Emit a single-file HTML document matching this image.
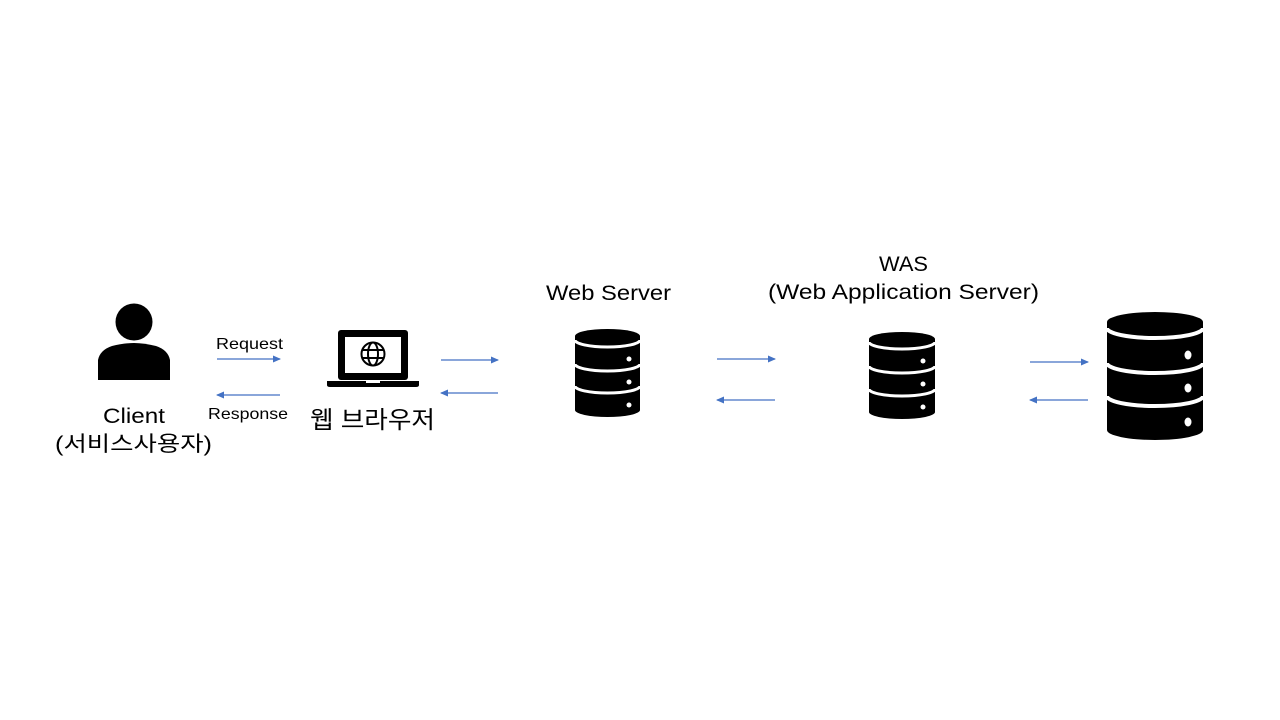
<!DOCTYPE html>
<html><head><meta charset="utf-8"><style>
html,body{margin:0;padding:0;background:#fff;}
svg{display:block;}
text{font-family:"Liberation Sans","Noto Sans CJK KR",sans-serif;fill:#000;}
</style></head><body>
<svg width="1280" height="720" viewBox="0 0 1280 720" xmlns="http://www.w3.org/2000/svg">
<defs>
<marker id="ah" markerWidth="8" markerHeight="8" refX="7" refY="4" orient="auto" markerUnits="userSpaceOnUse">
<path d="M0,0.5 L8,4 L0,7.5 Z" fill="#4472c4"/></marker>
</defs>
<!-- person -->
<circle cx="134" cy="322" r="18.5" fill="#000"/>
<path d="M98,380 L98,360 Q100,350 112,346 Q124,343 134,343 Q144,343 156,346 Q168,350 170,360 L170,380 Z" fill="#000"/>
<!-- laptop -->
<rect x="338" y="330" width="70" height="50" rx="3" fill="#000"/>
<rect x="345" y="337" width="56" height="36" fill="#fff"/>
<g fill="none" stroke="#000" stroke-width="2">
<circle cx="373" cy="354" r="11.5"/>
<ellipse cx="373" cy="354" rx="5" ry="11.5"/>
<line x1="361.5" y1="350" x2="384.5" y2="350"/>
<line x1="361.5" y1="358" x2="384.5" y2="358"/>
</g>
<path d="M327,381 L419,381 L419,385 Q419,387 416,387 L330,387 Q327,387 327,385 Z" fill="#000"/>
<rect x="366" y="381" width="14" height="2" fill="#fff"/>
<!-- DB icons -->
<g id="db1">
<path d="M575,336 A32.5,7 0 0 1 640,336 L640,410 A32.5,7 0 0 1 575,410 Z" fill="#000"/>
<g fill="none" stroke="#fff" stroke-width="3">
<path d="M575,340 A32.5,7 0 0 0 640,340"/>
<path d="M575,364 A32.5,7 0 0 0 640,364"/>
<path d="M575,386 A32.5,7 0 0 0 640,386"/>
</g>
<g fill="#fff"><circle cx="629" cy="359" r="2.5"/><circle cx="629" cy="382" r="2.5"/><circle cx="629" cy="405" r="2.5"/></g>
</g>
<g>
<path d="M869,339 A33,7 0 0 1 935,339 L935,412 A33,7 0 0 1 869,412 Z" fill="#000"/>
<g fill="none" stroke="#fff" stroke-width="3">
<path d="M869,342 A33,7 0 0 0 935,342"/>
<path d="M869,366 A33,7 0 0 0 935,366"/>
<path d="M869,389 A33,7 0 0 0 935,389"/>
</g>
<g fill="#fff"><circle cx="923" cy="361" r="2.5"/><circle cx="923" cy="384" r="2.5"/><circle cx="923" cy="407" r="2.5"/></g>
</g>
<g>
<path d="M1107,322 A48,10 0 0 1 1203,322 L1203,430 A48,10 0 0 1 1107,430 Z" fill="#000"/>
<g fill="none" stroke="#fff" stroke-width="4">
<path d="M1107,328 A48,10 0 0 0 1203,328"/>
<path d="M1107,363 A48,10 0 0 0 1203,363"/>
<path d="M1107,396 A48,10 0 0 0 1203,396"/>
</g>
<g fill="#fff"><ellipse cx="1188" cy="355" rx="3.5" ry="4.5"/><ellipse cx="1188" cy="388" rx="3.5" ry="4.5"/><ellipse cx="1188" cy="422" rx="3.5" ry="4.5"/></g>
</g>
<!-- arrows -->
<g stroke="#4472c4" stroke-width="1.2" marker-end="url(#ah)">
<line x1="217" y1="359" x2="280" y2="359"/>
<line x1="280" y1="395" x2="217" y2="395"/>
<line x1="441" y1="360" x2="498" y2="360"/>
<line x1="498" y1="393" x2="441" y2="393"/>
<line x1="717" y1="359" x2="775" y2="359"/>
<line x1="775" y1="400" x2="717" y2="400"/>
<line x1="1030" y1="362" x2="1088" y2="362"/>
<line x1="1088" y1="400" x2="1030" y2="400"/>
</g>
<!-- labels -->
<text x="216" y="349" font-size="16" textLength="67" lengthAdjust="spacingAndGlyphs">Request</text>
<text x="208" y="419" font-size="16" textLength="80" lengthAdjust="spacingAndGlyphs">Response</text>
<text x="103" y="423" font-size="21" textLength="62" lengthAdjust="spacingAndGlyphs">Client</text>
<text x="55" y="451" font-size="21" textLength="157" lengthAdjust="spacingAndGlyphs">(서비스사용자)</text>
<text x="310" y="428" font-size="24" textLength="125" lengthAdjust="spacingAndGlyphs">웹 브라우저</text>
<text x="546" y="300" font-size="21" textLength="125" lengthAdjust="spacingAndGlyphs">Web Server</text>
<text x="879" y="271" font-size="21" textLength="49" lengthAdjust="spacingAndGlyphs">WAS</text>
<text x="768" y="299" font-size="21" textLength="271" lengthAdjust="spacingAndGlyphs">(Web Application Server)</text>
</svg>
</body></html>
